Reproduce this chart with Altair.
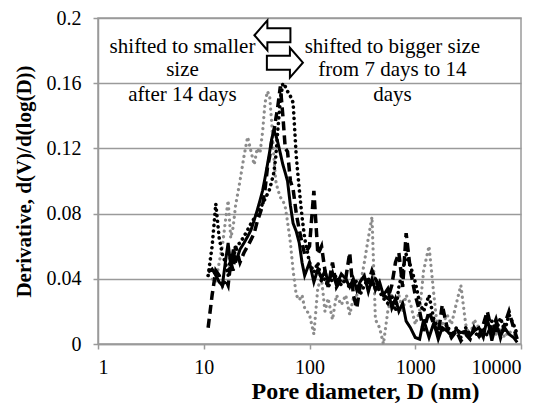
import altair as alt
import pandas as pd

# Pore diameter grid (nm)
diameter = [11, 12, 13, 14, 15, 16, 17, 18, 19, 20,
            22, 24, 26, 28, 30, 32, 34, 36, 38, 40,
            42, 44, 46, 48, 50, 53, 56, 59, 62, 66,
            70, 75, 80, 85, 90, 100, 110, 120, 130, 140,
            150, 165, 180, 200, 220, 240, 260, 280, 300, 330,
            360, 390, 420, 460, 500, 550, 600, 650, 700, 760,
            820, 900, 1000, 1100, 1200, 1350, 1500, 1650, 1800, 2000,
            2200, 2450, 2700, 3000, 3300, 3600, 4000, 4400, 4800, 5300,
            5800, 6400, 7000, 7700, 8500, 9200]

solid_black = [0.044, 0.046, 0.042, 0.038, 0.036, 0.05, 0.062, 0.048, 0.058, 0.05,
               0.058, 0.062, 0.066, 0.07, 0.076, 0.082, 0.088, 0.094, 0.102, 0.11,
               0.118, 0.126, 0.131, 0.128, 0.124, 0.117, 0.11, 0.105, 0.1, 0.085,
               0.074, 0.069, 0.062, 0.05, 0.042, 0.05, 0.038, 0.046, 0.04, 0.045,
               0.038, 0.044, 0.036, 0.043, 0.04, 0.035, 0.04, 0.033, 0.038, 0.042,
               0.032, 0.04, 0.033, 0.038, 0.03, 0.034, 0.022, 0.028, 0.02, 0.025,
               0.014, 0.01, 0.004, 0.003, 0.015, 0.004, 0.013, 0.003, 0.01, 0.008,
               0.005, 0.009, 0.007, 0.008, 0.005, 0.008, 0.01, 0.004, 0.016, 0.002,
               0.012, 0.005, 0.01, 0.006, 0.004, 0.001]

dashed_black = [0.01, 0.03, 0.045, 0.042, 0.036, 0.04, 0.036, 0.05, 0.045, 0.06,
                0.05, 0.056, 0.06, 0.064, 0.068, 0.075, 0.08, 0.085, 0.095, 0.108,
                0.115, 0.125, 0.13, 0.138, 0.145, 0.158, 0.14, 0.12, 0.118, 0.1,
                0.095, 0.08, 0.07, 0.062, 0.055, 0.06, 0.094, 0.055, 0.06, 0.045,
                0.035, 0.05, 0.035, 0.04, 0.04, 0.056, 0.03, 0.022, 0.035, 0.04,
                0.038, 0.045, 0.04, 0.035, 0.03, 0.028, 0.036, 0.05, 0.056, 0.035,
                0.068, 0.045, 0.03, 0.02, 0.008, 0.02, 0.012, 0.006, 0.024, 0.01,
                0.004, 0.008, 0.002, 0.006, 0.003, 0.01, 0.005, 0.012, 0.02, 0.008,
                0.015, 0.004, 0.012, 0.02, 0.01, 0.003]

dotted_black = [0.042, 0.06, 0.086, 0.065, 0.055, 0.05, 0.042, 0.055, 0.05, 0.06,
                0.062, 0.066, 0.07, 0.074, 0.077, 0.08, 0.083, 0.086, 0.089, 0.092,
                0.095, 0.1, 0.105, 0.115, 0.13, 0.15, 0.16, 0.158, 0.155, 0.152,
                0.148, 0.115, 0.095, 0.078, 0.065, 0.05, 0.044, 0.05, 0.038, 0.04,
                0.035, 0.04, 0.042, 0.036, 0.04, 0.034, 0.04, 0.038, 0.03, 0.036,
                0.04, 0.035, 0.04, 0.032, 0.028, 0.025, 0.03, 0.02, 0.035, 0.045,
                0.055, 0.048, 0.038, 0.025, 0.02, 0.03, 0.015, 0.01, 0.008, 0.012,
                0.005, 0.01, 0.004, 0.01, 0.006, 0.008, 0.004, 0.01, 0.005, 0.014,
                0.008, 0.016, 0.008, 0.018, 0.012, 0.006]

dotted_gray = [0.042, 0.04, 0.038, 0.05, 0.06, 0.075, 0.088, 0.065, 0.072, 0.085,
               0.1, 0.115, 0.127, 0.118, 0.11, 0.12, 0.117, 0.13, 0.148, 0.155,
               0.152, 0.135, 0.115, 0.1, 0.095, 0.09, 0.088, 0.084, 0.075, 0.062,
               0.045, 0.03, 0.027, 0.03, 0.022, 0.018, 0.006, 0.035, 0.04, 0.02,
               0.028, 0.015, 0.03, 0.024, 0.03, 0.018, 0.028, 0.03, 0.035, 0.05,
               0.065, 0.078, 0.015, 0.01, 0.0, 0.02, 0.03, 0.028, 0.03, 0.02,
               0.03, 0.025, 0.012, 0.02, 0.045, 0.06, 0.03, 0.005, 0.012, 0.018,
               0.012, 0.025, 0.036, 0.012, 0.004, 0.015, 0.01, 0.004, 0.008, 0.01,
               0.006, 0.01, 0.004, 0.008, 0.005, 0.006]

x_ticks = [1, 10, 100, 1000, 10000]
y_ticks = [0, 0.04, 0.08, 0.12, 0.16, 0.2]

# annotations
note_text = ["shifted to smaller", "size", "after 14 days",
             "shifted to bigger size", "from 7 days to 14", "days"]
note_x = [6.3, 6.3, 6.3, 608, 608, 608]
note_y = [0.1821, 0.168, 0.1527, 0.1821, 0.168, 0.1527]

arrow_x = [44.6, 58.5]
arrow_y = [0.1894, 0.1726]
arrow_dir = ["left", "right"]

series_names = ["gray", "dotted", "dashed", "solid"]
series_vals = [dotted_gray, dotted_black, dashed_black, solid_black]

rows = []
for name, vals in zip(series_names, series_vals):
    for d, v in zip(diameter, vals):
        rows.append({"D": d, "V": v, "s": name})
df = pd.DataFrame(rows)

notes = pd.DataFrame({"t": note_text, "x": note_x, "y": note_y})
arrows = pd.DataFrame({"x": arrow_x, "y": arrow_y, "dir": arrow_dir})

GRID = "#9a9a9a"
FONT = "'Liberation Serif', 'Times New Roman', 'DejaVu Serif', serif"

xscale = alt.Scale(type="log", domain=[1, 10000])
yscale = alt.Scale(domain=[0, 0.2])

xenc = alt.X("D:Q", scale=xscale,
             axis=alt.Axis(values=x_ticks, format="d", grid=False,
                           title="Pore diameter, D (nm)",
                           titleX=267, titleY=54, titleBaseline="alphabetic",
                           titleFontSize=24))
yenc = alt.Y("V:Q", scale=yscale,
             axis=alt.Axis(values=y_ticks, format="~g", grid=True,
                           title="Derivative, d(V)/d(log(D))",
                           titleFontSize=21, titlePadding=12))

base = alt.Chart(df)

def line_layer(name, **kw):
    return base.transform_filter(alt.datum.s == name).mark_line(**kw).encode(
        x=xenc, y=yenc, order="D:Q")

gray_l = line_layer("gray", color="#8c8c8c", strokeWidth=3.2,
                    strokeDash=[0.1, 5.5], strokeCap="round")
dot_l = line_layer("dotted", color="black", strokeWidth=3.6,
                   strokeDash=[0.1, 5.5], strokeCap="round")
dash_l = line_layer("dashed", color="black", strokeWidth=3.5,
                    strokeDash=[9, 5])
solid_l = line_layer("solid", color="black", strokeWidth=3)

text_l = alt.Chart(notes).mark_text(font=FONT, fontSize=21, color="black",
                                    baseline="middle", align="center").encode(
    x=alt.X("x:Q", scale=xscale), y=alt.Y("y:Q", scale=yscale), text="t:N")

left_path = "M-1,0 L-0.28,-0.83 L-0.28,-0.39 L1,-0.39 L1,0.39 L-0.28,0.39 L-0.28,0.83 Z"
right_path = "M1,0 L0.28,-0.83 L0.28,-0.39 L-1,-0.39 L-1,0.39 L0.28,0.39 L0.28,0.83 Z"

arrow_l = alt.Chart(arrows).transform_filter(alt.datum.dir == "left").mark_point(
    shape=left_path, size=1296, filled=True, fill="white", stroke="black",
    strokeWidth=2, opacity=1).encode(
    x=alt.X("x:Q", scale=xscale), y=alt.Y("y:Q", scale=yscale))
arrow_r = alt.Chart(arrows).transform_filter(alt.datum.dir == "right").mark_point(
    shape=right_path, size=1296, filled=True, fill="white", stroke="black",
    strokeWidth=2, opacity=1).encode(
    x=alt.X("x:Q", scale=xscale), y=alt.Y("y:Q", scale=yscale))

chart = alt.layer(gray_l, dot_l, dash_l, solid_l, text_l, arrow_l, arrow_r).properties(
    width=423, height=326,
    autosize=alt.AutoSizeParams(type="none"),
    padding={"left": 98, "top": 18, "right": 33, "bottom": 59},
    background="white",
).configure_view(
    stroke=GRID, strokeWidth=1.5
).configure_axis(
    labelFont=FONT, labelFontSize=20, labelColor="black",
    titleFont=FONT, titleFontWeight="bold", titleColor="black",
    domainColor=GRID, domainWidth=1.5, tickColor=GRID, tickWidth=1.5, tickSize=5,
    gridColor=GRID, gridWidth=1.5,
).configure_axisX(labelPadding=8).configure_axisY(labelPadding=12)

chart.save("out.html", embed_options={"renderer": "svg", "actions": False})
